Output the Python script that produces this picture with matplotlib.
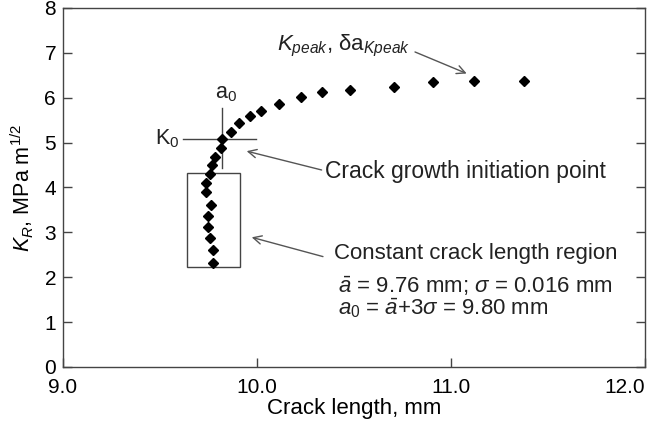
import matplotlib
matplotlib.use("Agg")
import matplotlib.pyplot as plt
from matplotlib.patches import Rectangle

matplotlib.rcParams.update({
    'font.family': ['Liberation Sans', 'DejaVu Sans'],
    'font.size': 15,
    'mathtext.fontset': 'custom',
    'mathtext.rm': 'Liberation Sans',
    'mathtext.it': 'Liberation Sans:italic',
    'mathtext.bf': 'Liberation Sans:bold',
    'text.color': '#222222',
})

# crack length (mm) and K_R (MPa m^1/2)
crack_len = [9.771, 9.774, 9.757, 9.748, 9.748, 9.761, 9.734, 9.736, 9.757,
             9.767, 9.783, 9.812, 9.820, 9.864, 9.908, 9.964, 10.021, 10.110,
             10.228, 10.334, 10.478, 10.704, 10.907, 11.118, 11.374]
k_r = [2.32, 2.61, 2.87, 3.12, 3.36, 3.61, 3.89, 4.10, 4.31,
       4.50, 4.68, 4.89, 5.08, 5.24, 5.43, 5.60, 5.71, 5.87,
       6.02, 6.13, 6.18, 6.23, 6.35, 6.38, 6.38]

a0 = 9.821
k0 = 5.08
box_x = (9.639, 9.911)
box_y = (2.23, 4.33)

xticks = [9.0, 10.0, 11.0, 12.0]
yticks = [0, 1, 2, 3, 4, 5, 6, 7, 8]

fig = plt.figure(figsize=(6.54, 4.25), dpi=100)
ax = fig.add_axes([0.0963, 0.1365, 0.8907, 0.8447])

ax.plot(crack_len, k_r, linestyle='none', marker='D', markersize=4.8,
        color='black', zorder=3)

line_c = '#444444'
# crosshair at initiation point
ax.plot([9.618, 9.996], [k0, k0], color=line_c, lw=1)
ax.plot([a0, a0], [4.43, 5.77], color=line_c, lw=1)
ax.text(a0 + 0.02, 5.85, 'a$_0$', ha='center', va='bottom', fontsize=15.5)
ax.text(9.60, k0, 'K$_0$', ha='right', va='center', fontsize=15.5)

# constant crack length box
ax.add_patch(Rectangle((box_x[0], box_y[0]), box_x[1] - box_x[0], box_y[1] - box_y[0],
                       fill=False, edgecolor=line_c, lw=1))

arrow = dict(arrowstyle='->', color='#555555', lw=1, shrinkA=0, shrinkB=0)
ax.annotate('', xy=(9.946, 4.81), xytext=(10.332, 4.39), arrowprops=arrow)
ax.text(10.349, 4.35, 'Crack growth initiation point', ha='left', va='center', fontsize=16.5)

ax.annotate('', xy=(9.972, 2.89), xytext=(10.339, 2.46), arrowprops=arrow)
ax.text(10.395, 2.54, 'Constant crack length region', ha='left', va='center', fontsize=16)
ax.text(10.416, 1.79, r'$\bar{a}$ = 9.76 mm; $\sigma$ = 0.016 mm', ha='left', va='center', fontsize=16)
ax.text(10.416, 1.31, r'$a_0$ = $\bar{a}$+3$\sigma$ = 9.80 mm', ha='left', va='center', fontsize=16)

ax.annotate('', xy=(11.079, 6.54), xytext=(10.813, 7.02), arrowprops=arrow)
ax.text(10.79, 7.15, r'$K_{peak}$, δa$_{Kpeak}$', ha='right', va='center', fontsize=16)

ax.set_xlim(9.0, 12.0)
ax.set_ylim(0, 8)
ax.set_xticks(xticks)
ax.set_xticklabels([f'{t:.1f}' for t in xticks])
ax.set_yticks(yticks)
ax.tick_params(direction='in', length=6.5, width=1, color='#444444',
               right=True, top=False, labelsize=15, pad=5)
ax.tick_params(axis='x', pad=8)
ax.get_xticklabels()[-1].set_horizontalalignment('right')
for s in ax.spines.values():
    s.set_color('#444444')
    s.set_linewidth(1)

ax.set_xlabel('Crack length, mm', fontsize=16, labelpad=1)
ax.set_ylabel(r'$K_R$, MPa m$^{1/2}$', fontsize=15.5, labelpad=6)

fig.savefig('out.png', dpi=100)
